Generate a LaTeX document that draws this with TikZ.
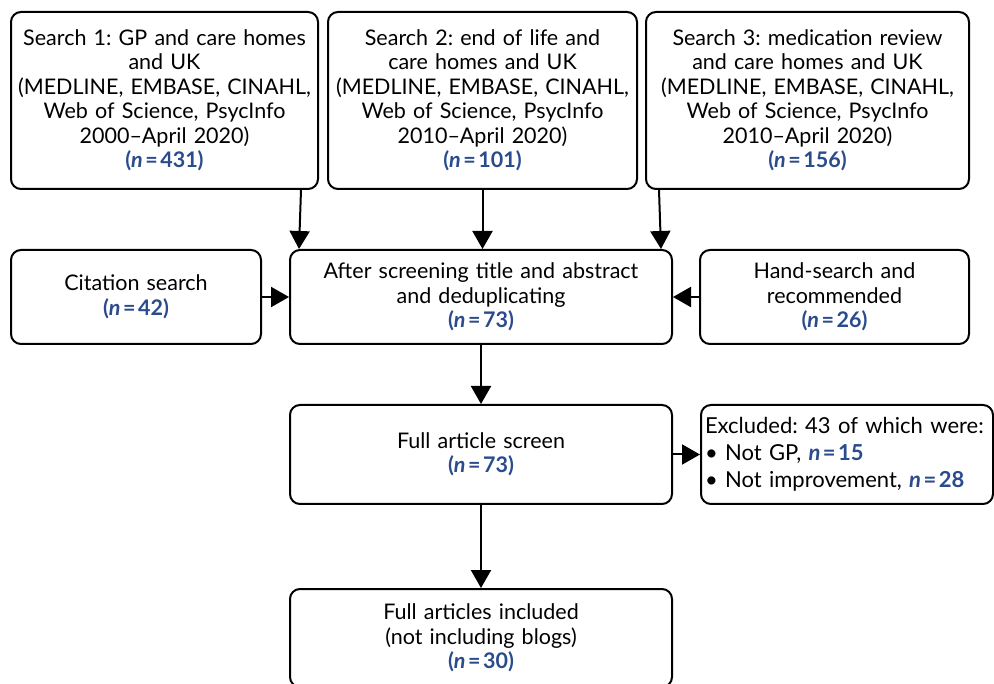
\documentclass[tikz,border=0pt]{standalone}
\usepackage{fontspec}
\setmainfont{Lato}
\frenchspacing
\usetikzlibrary{arrows.meta,positioning}
\definecolor{nblue}{RGB}{42,75,140}
\newcommand{\nval}[1]{{\color{nblue}\bfseries(\textit{n}\kern2.5pt=\kern2.5pt#1)}}
\newcommand{\nin}[1]{{\color{nblue}\bfseries\textit{n}\kern2.5pt=\kern2.5pt#1}}

\begin{document}
\begin{tikzpicture}[x=1pt,y=-1pt,>={Triangle[width=20pt,length=18pt]},line width=2pt,
    box/.style={draw,rounded corners=10pt,align=center,inner sep=1pt,
                font=\fontsize{21.5}{24.5}\selectfont}]
  \useasboundingbox (0,0) rectangle (994,684);

  % searches
  \node[box,text width=305,minimum height=177] (s1) at (164.5,100.5)
    {Search 1: GP and care homes\\and UK\\(MEDLINE, EMBASE, CINAHL,\\Web of Science, PsycInfo\\2000--April 2020)\\\nval{431}};
  \node[box,text width=307,minimum height=177] (s2) at (482.5,100.5)
    {Search 2: end of life and\\care homes and UK\\(MEDLINE, EMBASE, CINAHL,\\Web of Science, PsycInfo\\2010--April 2020)\\\nval{101}};
  \node[box,text width=321,minimum height=177] (s3) at (807.5,100.5)
    {Search 3: medication review\\and care homes and UK\\(MEDLINE, EMBASE, CINAHL,\\Web of Science, PsycInfo\\2010--April 2020)\\\nval{156}};

  % screening row
  \node[box,text width=248,minimum height=94] (cit) at (136,297)
    {Citation search\\\nval{42}};
  \node[box,text width=380,minimum height=94] (scr) at (481,297)
    {After screening title and abstract\\and deduplicating\\\nval{73}};
  \node[box,text width=267,minimum height=94] (hand) at (834.5,297)
    {Hand-search and\\recommended\\\nval{26}};

  % full text
  \node[box,text width=284,minimum height=99,align=left,inner sep=4pt,
        font=\fontsize{22}{27}\selectfont] (excl) at (847,454.5)
    {Excluded: 43 of which were:\\\textbullet\ Not GP, \nin{15}\\\textbullet\ Not improvement, \nin{28}};
  \node[box,text width=380,minimum height=99] (full) at (481,454.5)
    {Full article screen\\\nval{73}};
  \node[box,text width=380,minimum height=98] (incl) at (481,638)
    {Full articles included\\(not including blogs)\\\nval{30}};

  \draw[->] ([xshift=-18pt]s1.south east) -- ([xshift=10pt]scr.north west);
  \draw[->] (s2.south) -- (s2.south |- scr.north);
  \draw[->] ([xshift=14pt]s3.south west) -- ([xshift=-12pt]scr.north east);
  \draw[->] (cit) -- (scr);
  \draw[->] (hand) -- (scr);
  \draw[->] (scr) -- (full);
  \draw[->] (full) -- (excl);
  \draw[->] (full) -- (incl);
\end{tikzpicture}
\end{document}
